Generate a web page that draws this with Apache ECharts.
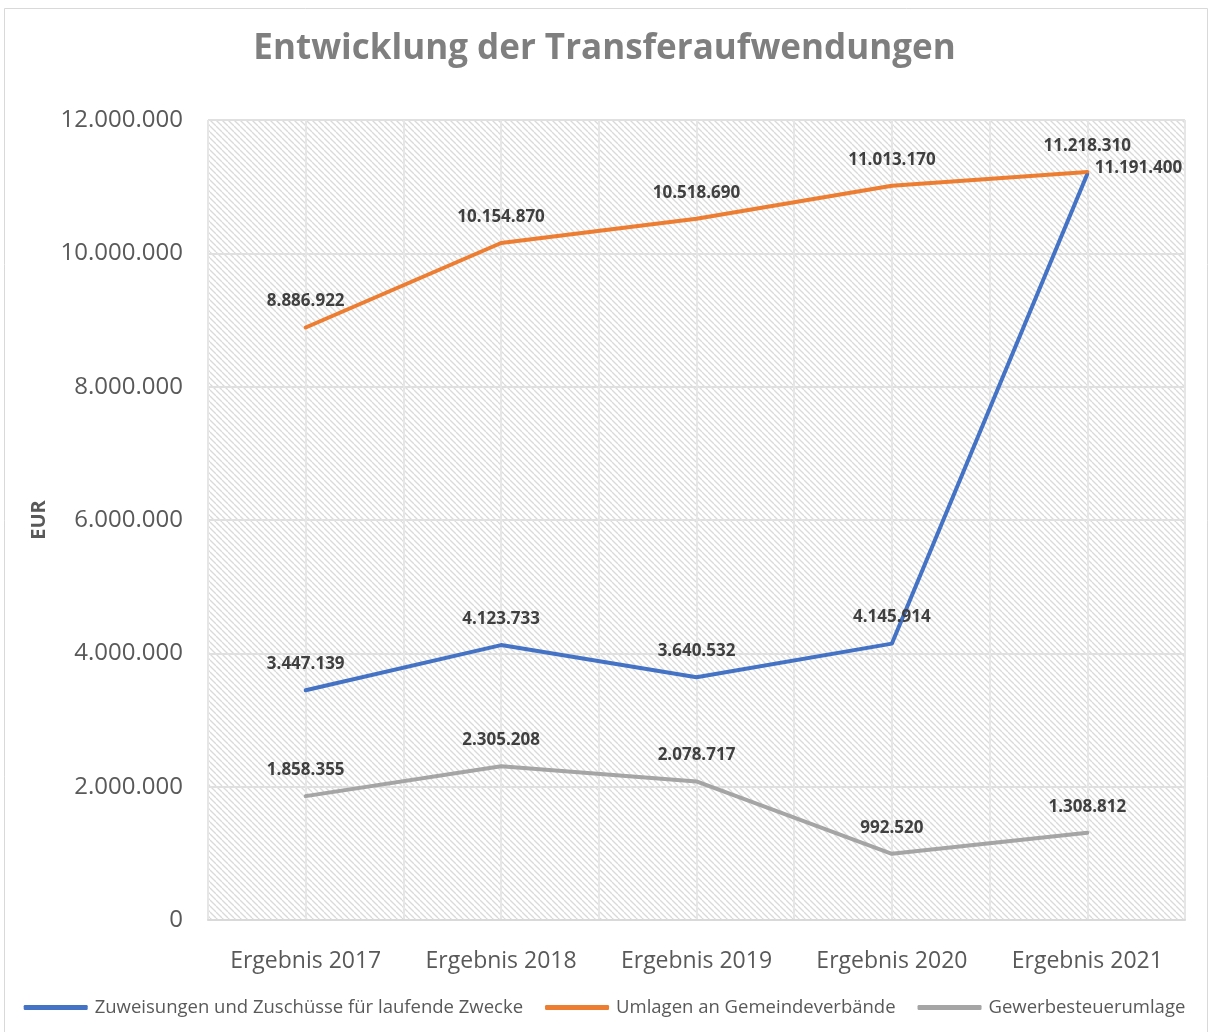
<!DOCTYPE html>
<html>
<head>
<meta charset="utf-8">
<script src="https://cdn.jsdelivr.net/npm/echarts@6/dist/echarts.min.js"></script>
<style>
html,body{margin:0;padding:0;background:#fff;}
#chart{width:1209px;height:1032px;}
</style>
</head>
<body>
<div id="chart"></div>
<script>
const categories = ['Ergebnis 2017','Ergebnis 2018','Ergebnis 2019','Ergebnis 2020','Ergebnis 2021'];
const seriesNames = ['Zuweisungen und Zuschüsse für laufende Zwecke','Umlagen an Gemeindeverbände','Gewerbesteuerumlage'];
const zuweisungen = [3447139, 4123733, 3640532, 4145914, 11191400];
const umlagen = [8886922, 10154870, 10518690, 11013170, 11218310];
const gewerbe = [1858355, 2305208, 2078717, 992520, 1308812];
const colors = ['#4472C4','#ED7D31','#A5A5A5'];

function de(v){ return String(Math.round(v)).replace(/\B(?=(\d{3})+(?!\d))/g,'.'); }

// hatch pattern
const pc = document.createElement('canvas');
pc.width = 6; pc.height = 6;
const g = pc.getContext('2d');
g.fillStyle = '#ffffff'; g.fillRect(0,0,6,6);
g.strokeStyle = '#dadada'; g.lineWidth = 1.3;
for (const o of [-6,0,6]) { g.beginPath(); g.moveTo(o,0); g.lineTo(o+6,6); g.stroke(); }

const font = "'Open Sans', sans-serif";
const chart = echarts.init(document.getElementById('chart'));

function mk(name, data, idx, special){
  return {
    name, type:'line', data: data.map((v,i)=>{
      if (special && i===4) return {value:v, label:{position:'right', distance:6, offset:[0,-6]}};
      return v;
    }),
    xAxisIndex:0, yAxisIndex:0,
    symbol:'circle', symbolSize:3, showSymbol:true,
    lineStyle:{color:colors[idx], width:4, cap:'round', join:'round'},
    itemStyle:{color:colors[idx]},
    label:{show:true, position:'top', distance:16, formatter:p=>de(p.value),
      fontFamily:font, fontWeight:'bold', fontSize:17, color:'#404040'},
    z: 3
  };
}

chart.setOption({
  animation:false,
  backgroundColor:'#fff',
  title:{text:'Entwicklung der Transferaufwendungen', left:'center', top:27,
    textStyle:{fontFamily:font, fontWeight:'bold', fontSize:35, color:'#7f7f7f'}},
  legend:{bottom:10, left:'center', itemWidth:64, itemHeight:5, itemGap:22, icon:'roundRect',
    data:seriesNames,
    textStyle:{fontFamily:font, fontSize:18.5, color:'#595959', padding:[0,0,0,2]}},
  grid:{left:208, right:24, top:120, bottom:112, show:true, borderWidth:0,
    backgroundColor:{image:pc, repeat:'repeat'}},
  xAxis:[{type:'category', data:categories, boundaryGap:true,
    axisLine:{show:true, lineStyle:{color:'#d9d9d9', width:2}},
    axisTick:{show:false},
    axisLabel:{fontFamily:font, fontSize:23, color:'#595959', margin:30, interval:0},
    splitLine:{show:false}},
   {type:'value', min:0, max:10, interval:1, show:true, position:'top',
    axisLine:{show:false}, axisTick:{show:false}, axisLabel:{show:false},
    splitLine:{show:true, lineStyle:{color:'#e6e6e6', width:2}}}],
  yAxis:{type:'value', min:0, max:12000000, interval:2000000,
    name:'EUR', nameLocation:'middle', nameGap:158, nameRotate:90,
    nameTextStyle:{fontFamily:font, fontWeight:'bold', fontSize:20, color:'#595959'},
    axisLine:{show:false}, axisTick:{show:false},
    axisLabel:{fontFamily:font, fontSize:24, color:'#595959', margin:25, formatter:v=>de(v)},
    splitLine:{show:true, lineStyle:{color:'#e0e0e0', width:2}}},
  graphic:[{type:'rect', shape:{x:4.5, y:8.5, width:1203, height:1030}, style:{fill:null, stroke:'#d9d9d9', lineWidth:1}, silent:true}],
  series:[mk(seriesNames[0], zuweisungen, 0, true), mk(seriesNames[1], umlagen, 1), mk(seriesNames[2], gewerbe, 2)]
});
</script>
</body>
</html>
